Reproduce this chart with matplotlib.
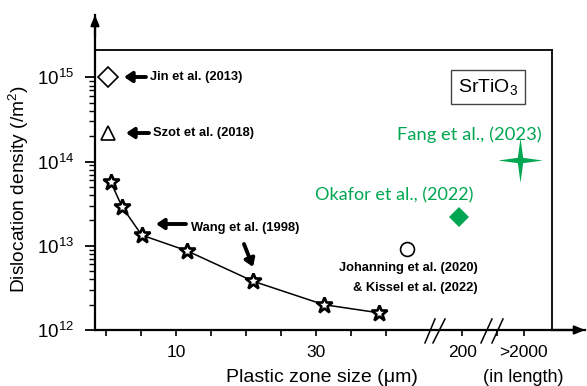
import matplotlib
matplotlib.use("Agg")
import matplotlib.pyplot as plt
import matplotlib.transforms as mtransforms
from matplotlib.path import Path
import numpy as np

plt.rcParams["font.family"] = ["Liberation Sans", "DejaVu Sans"]
plt.rcParams["mathtext.fontset"] = "custom"
plt.rcParams["mathtext.rm"] = "Liberation Sans"
plt.rcParams["mathtext.it"] = "Liberation Sans:italic"

# x is a schematic (broken) axis, tick label positions in plot units
tick_pos = [0, 5, 10, 15, 20, 25, 30, 35, 40, 50.9, 55.9, 59.7]
tick_labels = ["", "", "10", "", "", "", "30", "", "", "200", "", ">2000"]

# Wang et al. (1998) series
wang_size = [0.7, 2.3, 5.1, 11.6, 21.0, 31.1, 39.0]
wang_density = [5.7e13, 2.9e13, 1.34e13, 8.7e12, 3.8e12, 2.0e12, 1.6e12]

# single literature points
jin = (0.3, 1.0e15)
szot = (0.3, 2.2e14)
johanning = (43.0, 9.2e12)
okafor = (50.4, 2.2e13)
fang = (59.1, 1.05e14)

green = "#00a651"

fig = plt.figure(figsize=(5.87, 3.86), dpi=100)
W, H = 587, 386
ax = fig.add_axes([95 / W, (H - 330) / H, 490 / W, 315 / H])
ax.set_yscale("log")
ax.set_xlim(-1.57, 68.43)
ax.set_ylim(1e12, 10 ** 15.741)


def px(x):
    return (x - 106) / 7.0


def py(y):
    return 10 ** (12 + (330 - y) / 84.2)


# spines and axis arrows
for s in ["top", "right"]:
    ax.spines[s].set_visible(False)
for s in ["left", "bottom"]:
    ax.spines[s].set_linewidth(1.6)
ax.annotate("", xy=(0, 1.0), xytext=(0, 0.93), xycoords="axes fraction",
            arrowprops=dict(arrowstyle="-|>,head_length=0.6,head_width=0.25",
                            lw=1.6, color="k", shrinkA=0, shrinkB=0))
ax.annotate("", xy=(1.0, 0), xytext=(0.93, 0), xycoords="axes fraction",
            arrowprops=dict(arrowstyle="-|>,head_length=0.6,head_width=0.25",
                            lw=1.6, color="k", shrinkA=0, shrinkB=0))

# frame
x_frame = px(552)
y_frame = py(50)
ax.plot([-1.57, x_frame], [y_frame, y_frame], color="k", lw=1.3, clip_on=False)
ax.plot([x_frame, x_frame], [1e12, y_frame], color="k", lw=1.3)

# ticks
ax.set_xticks(tick_pos)
ax.set_xticklabels(tick_labels, fontsize=12.5)
ax.tick_params(axis="x", direction="out", length=4.5, width=1.2, pad=6)
ax.set_yticks([1e12, 1e13, 1e14, 1e15])
ax.set_yticklabels([r"$10^{12}$", r"$10^{13}$", r"$10^{14}$", r"$10^{15}$"], fontsize=13.5)
minors = [m * 10 ** e for e in range(12, 15) for m in range(2, 10)]
ax.yaxis.set_minor_locator(matplotlib.ticker.FixedLocator(minors))
ax.yaxis.set_minor_formatter(matplotlib.ticker.NullFormatter())
ax.tick_params(axis="y", which="major", direction="out", length=7, width=1.3, pad=8)
ax.tick_params(axis="y", which="minor", direction="out", length=4.5, width=1.0)

# axis breaks
trans = mtransforms.blended_transform_factory(ax.transData, ax.transAxes)
for x0, x1 in [(px(425), px(435)), (px(433), px(445)), (px(481), px(492)), (px(492), px(503))]:
    ax.plot([x0, x1], [-0.041, 0.035], color="k", lw=1.1, transform=trans, clip_on=False)

# data
ax.plot(wang_size, wang_density, color="k", lw=1.1, marker="*", ms=12,
        mfc="white", mec="k", mew=1.9)
ax.plot(*jin, marker="D", ms=10, mfc="white", mec="k", mew=1.2)
ax.plot(*szot, marker="^", ms=10, mfc="white", mec="k", mew=1.2)
ax.plot(*johanning, marker="o", ms=10, mfc="white", mec="k", mew=1.2)
ax.plot(*okafor, marker="D", ms=10, color=green, mew=0)

r = 0.12
star4 = Path([(0, 1), (r, r), (1, 0), (r, -r), (0, -1), (-r, -r), (-1, 0), (-r, r), (0, 1)],
             [Path.MOVETO] + [Path.LINETO] * 7 + [Path.CLOSEPOLY])
ax.plot(*fang, marker=star4, ms=32, color=green, mew=0)

# annotations
arrow = dict(arrowstyle="-|>,head_length=0.45,head_width=0.3", lw=2.8, color="k",
             shrinkA=0, shrinkB=0)
afs = 9.3
ax.annotate("", xy=(px(124), py(77)), xytext=(px(146), py(77)), arrowprops=arrow)
ax.text(px(150), py(77), "Jin et al. (2013)", fontsize=afs, fontweight="bold", va="center")
ax.annotate("", xy=(px(126), py(133)), xytext=(px(149), py(133)), arrowprops=arrow)
ax.text(px(153), py(133), "Szot et al. (2018)", fontsize=afs, fontweight="bold", va="center")
ax.annotate("", xy=(px(156), py(224)), xytext=(px(186), py(224)), arrowprops=arrow)
ax.text(px(191), py(228), "Wang et al. (1998)", fontsize=afs, fontweight="bold", va="center")
ax.annotate("", xy=(px(253), py(267)), xytext=(px(244), py(244)), arrowprops=arrow)
ax.text(px(478), py(268), "Johanning et al. (2020)", fontsize=afs, fontweight="bold",
        va="center", ha="right")
ax.text(px(478), py(288), "& Kissel et al. (2022)", fontsize=afs, fontweight="bold",
        va="center", ha="right")

ax.text(px(394), py(195), "Okafor et al., (2022)", fontsize=13, color=green,
        family="Lato", ha="center", va="center")
ax.text(px(469), py(135), "Fang et al., (2023)", fontsize=13.2, color=green,
        family="Lato", ha="center", va="center")

ax.text(px(488), py(87), r"SrTiO$_3$", fontsize=14, ha="center", va="center",
        bbox=dict(boxstyle="square,pad=0.35", fc="white", ec="#444444", lw=1.0))

fig.text(322 / W, 1 - 378 / H, "Plastic zone size (\u03bcm)", fontsize=14,
         ha="center", va="center")
fig.text(523 / W, 1 - 378 / H, "(in length)", fontsize=13, ha="center", va="center")
fig.text(19 / W, 1 - 189 / H, "Dislocation density (/m$^2$)", fontsize=13.8,
         ha="center", va="center", rotation=90)

fig.savefig("out.png", dpi=100)
